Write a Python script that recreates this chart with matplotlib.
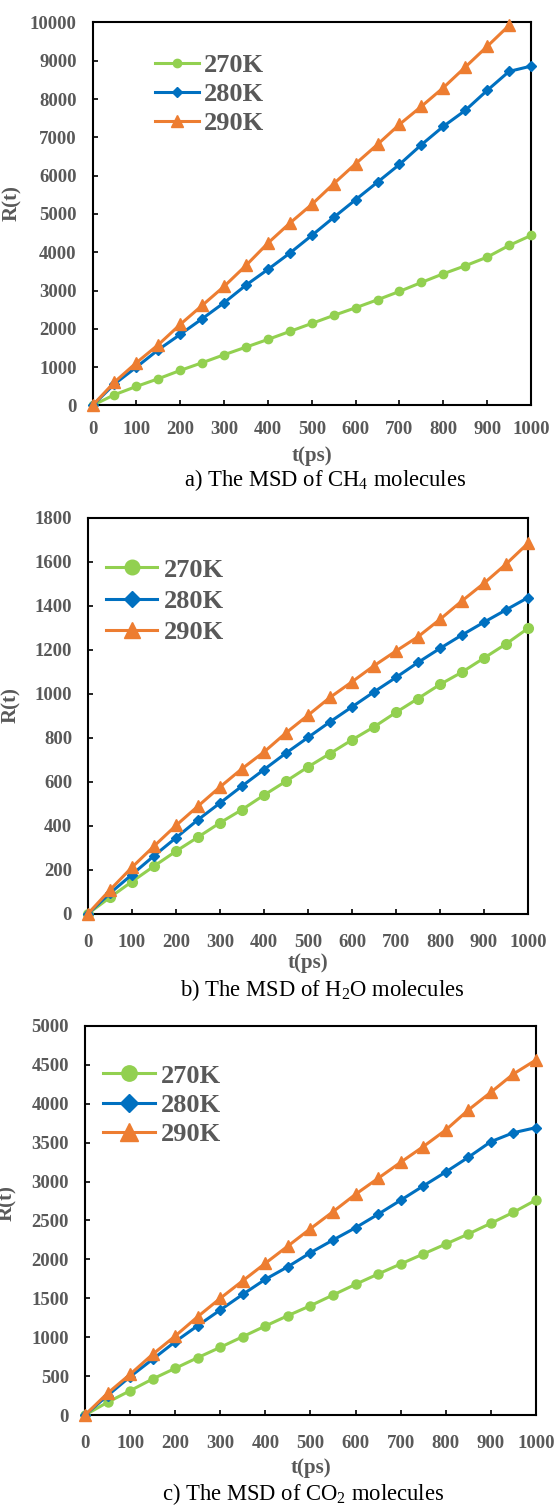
# MSD of CH4 / H2O / CO2 molecules at three temperatures
import matplotlib
matplotlib.use('Agg')
import matplotlib.pyplot as plt

plt.rcParams['font.family'] = ['Liberation Serif', 'DejaVu Serif']
plt.rcParams['mathtext.fontset'] = 'custom'
plt.rcParams['mathtext.rm'] = 'Liberation Serif'

t = [0, 50, 100, 150, 200, 250, 300, 350, 400, 450, 500,
     550, 600, 650, 700, 750, 800, 850, 900, 950, 1000]

labels = ['270K', '280K', '290K']
colors = ['#92D050', '#0070C0', '#ED7D31']
markers = ['o', 'D', '^']

# a) CH4
ch4_270 = [0, 280, 496, 697, 914, 1115, 1323, 1523, 1723, 1932, 2141,
           2350, 2550, 2759, 2977, 3211, 3438, 3646, 3872, 4177, 4438]
ch4_280 = [0, 560, 1000, 1454, 1854, 2263, 2681, 3141, 3551, 3977, 4438,
           4909, 5371, 5830, 6292, 6806, 7285, 7702, 8224, 8721, 8859]
ch4_290 = [0, 609, 1115, 1585, 2115, 2611, 3107, 3655, 4238, 4760, 5248,
           5788, 6310, 6815, 7337, 7807, 8295, 8833, 9373, 9922]

# b) H2O
h2o_270 = [0, 74, 146, 216, 284, 348, 413, 473, 539, 602, 667,
           728, 790, 849, 915, 978, 1042, 1098, 1162, 1226, 1297]
h2o_280 = [0, 93, 178, 263, 345, 427, 503, 580, 655, 730, 801,
           872, 940, 1008, 1074, 1142, 1206, 1267, 1325, 1381, 1437]
h2o_290 = [0, 108, 211, 307, 401, 489, 576, 659, 735, 822, 902,
           983, 1054, 1127, 1194, 1259, 1338, 1422, 1502, 1589, 1684]

# c) CO2
co2_270 = [0, 163, 312, 463, 600, 737, 870, 1007, 1144, 1277, 1405,
           1542, 1680, 1812, 1941, 2069, 2197, 2326, 2464, 2605, 2763]
co2_280 = [0, 250, 492, 716, 942, 1148, 1350, 1551, 1744, 1906, 2086,
           2249, 2407, 2580, 2760, 2943, 3123, 3312, 3513, 3628, 3693]
co2_290 = [0, 279, 523, 780, 1015, 1264, 1500, 1726, 1950, 2172, 2395,
           2613, 2837, 3042, 3248, 3449, 3663, 3920, 4148, 4383, 4563]

gray = '#595959'

fig = plt.figure(figsize=(5.58, 15.05), dpi=100)


def panel(rect, series, ymax, ystep, msizes, mscale, leg_anchor, hlen, htpad,
          lspace, xpad, ylab_pos, xlab_y, caption, cap_xy):
    ax = fig.add_axes(rect)
    for s, lab, c, m, ms in zip(series, labels, colors, markers, msizes):
        ax.plot(t[:len(s)], s, color=c, marker=m, ms=ms, lw=2.2, label=lab,
                clip_on=False, zorder=3)
    ax.set_xlim(0, 1000)
    ax.set_ylim(0, ymax)
    ax.set_xticks(range(0, 1001, 100))
    ax.set_yticks(range(0, ymax + 1, ystep))
    for sp in ax.spines.values():
        sp.set_linewidth(1.5)
        sp.set_color('black')
    ax.tick_params(direction='in', length=3.5, width=1.2, color='black',
                   labelsize=13.5, labelcolor=gray)
    ax.tick_params(axis='y', pad=11.5)
    ax.tick_params(axis='x', pad=xpad)
    for lbl in ax.get_xticklabels() + ax.get_yticklabels():
        lbl.set_fontweight('bold')
    ax.set_ylabel('R(t)', fontsize=15, fontweight='bold', color=gray)
    ax.yaxis.set_label_coords(*ylab_pos)
    ax.set_xlabel('t(ps)', fontsize=15, fontweight='bold', color=gray)
    ax.xaxis.set_label_coords(0.5, xlab_y)
    leg = ax.legend(loc='upper left', bbox_to_anchor=leg_anchor, frameon=False,
                    prop={'family': 'Liberation Serif', 'weight': 'bold', 'size': 19},
                    handlelength=hlen, handletextpad=htpad, labelspacing=lspace,
                    borderpad=0, borderaxespad=0, markerscale=mscale)
    for txt in leg.get_texts():
        txt.set_color(gray)
    fig.text(cap_xy[0], cap_xy[1], caption, ha='center', va='center', fontsize=16.3)
    return ax


panel([0.1658, 0.7306, 0.7858, 0.2545], [ch4_270, ch4_280, ch4_290],
      10000, 1000, [6, 5.5, 8], 1.0, (0.143, 0.918), 1.65, 0.18, 0.2, 11,
      (-0.161, 0.528), -0.105, 'a) The MSD of CH$_4$ molecules', (0.5825, 0.681))

panel([0.1577, 0.3929, 0.7885, 0.2631], [h2o_270, h2o_280, h2o_290],
      1800, 200, [7, 5.5, 8], 1.5, (0.041, 0.898), 1.95, 0.26, 0.3, 14.5,
      (-0.152, 0.527), -0.1, 'b) The MSD of H$_2$O molecules', (0.577, 0.3425))

panel([0.1523, 0.0598, 0.8082, 0.2585], [co2_270, co2_280, co2_290],
      5000, 500, [6.5, 5.5, 8], 1.7, (0.041, 0.902), 1.95, 0.24, 0.22, 14.5,
      (-0.15, 0.545), -0.11, 'c) The MSD of CO$_2$ molecules', (0.543, 0.0075))

fig.savefig('out.png', dpi=100)
